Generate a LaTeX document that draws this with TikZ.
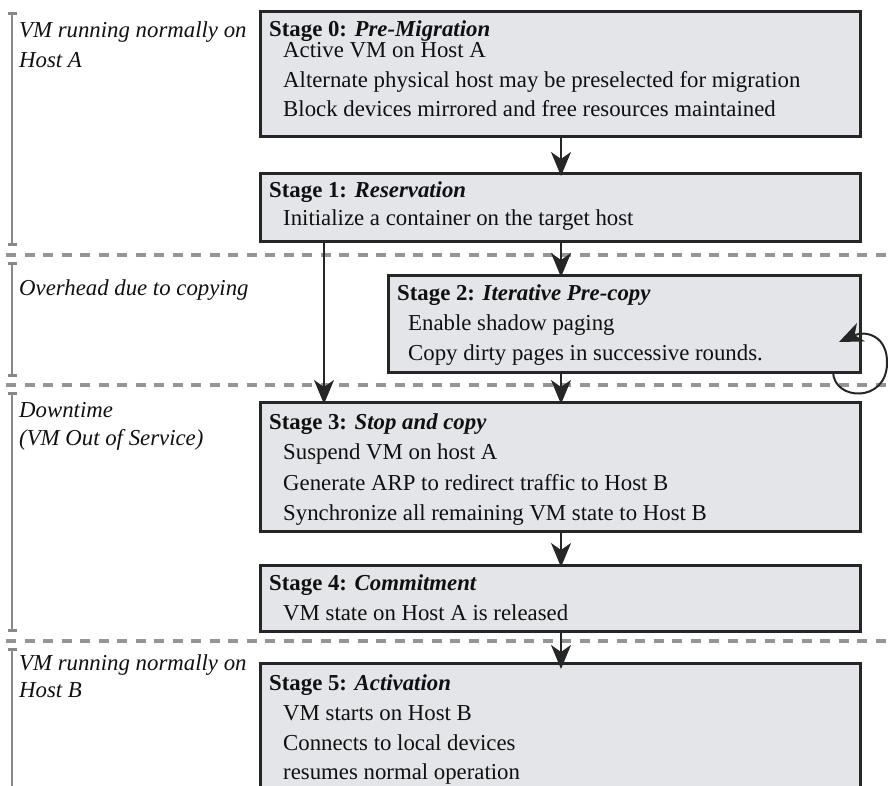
\documentclass[tikz,border=0pt]{standalone}
\usepackage{fontspec}
\setmainfont{Liberation Serif}
\usetikzlibrary{arrows.meta}
\definecolor{boxfill}{HTML}{E3E5E9}
\definecolor{boxline}{HTML}{262626}
\definecolor{sepgray}{HTML}{959595}
\definecolor{bargray}{HTML}{888888}
\definecolor{inkc}{HTML}{101010}
\begin{document}
\begin{tikzpicture}[x=1pt,y=-1pt,
  stagebox/.style={draw=boxline, line width=3pt, fill=boxfill, rectangle,
    inner sep=0pt, outer sep=0pt, anchor=north west},
  txt/.style={anchor=base west, inner sep=0pt, text=inkc,
    font=\fontsize{22.8}{27}\selectfont},
  sidelabel/.style={anchor=base west, inner sep=0pt, text=inkc,
    font=\fontsize{22.8}{27}\selectfont\itshape},
  headtip/.tip={Stealth[length=24pt 0,width=20pt 0,inset=7pt 0]},
  arr/.style={draw=boxline, line width=2pt, -headtip},
  sepline/.style={draw=sepgray, line width=3.2pt, dash pattern=on 10pt off 8.5pt},
  brk/.style={draw=bargray, line width=2.8pt},
]
\useasboundingbox (0,0) rectangle (888,786);

% ---------- side brackets ----------
\draw[brk, {Bar[width=9pt]}-{Bar[width=9pt]}] (12,12) -- (12,246);
\draw[brk, {Bar[width=9pt]}-{Bar[width=9pt]}] (12,262) -- (12,377);
\draw[brk, {Bar[width=9pt]}-{Bar[width=9pt]}] (12,392) -- (12,632);
\draw[brk, {Bar[width=9pt]}-] (12,648) -- (12,800);

% ---------- separators ----------
\draw[sepline] (6,255) -- (888,255);
\draw[sepline] (6,385) -- (888,385);
\draw[sepline] (6,641) -- (888,641);

% ---------- side labels ----------
\node[sidelabel] (lA1) at (19,38) {VM running normally on};
\node[sidelabel] (lA2) at (19,68) {Host A};
\node[sidelabel] (lO)  at (19,295) {Overhead due to copying};
\node[sidelabel] (lD1) at (19,417) {Downtime};
\node[sidelabel] (lD2) at (19,445) {(VM Out of Service)};
\node[sidelabel] (lB1) at (19,670) {VM running normally on};
\node[sidelabel] (lB2) at (19,697) {Host B};

% ---------- boxes ----------
\node[stagebox, minimum width=600pt, minimum height=125pt] (S0) at (260,12) {};
\node[stagebox, minimum width=600pt, minimum height=68pt]  (S1) at (260,174) {};
\node[stagebox, minimum width=472pt, minimum height=97pt]  (S2) at (388,275) {};
\node[stagebox, minimum width=600pt, minimum height=129pt] (S3) at (260,402) {};
\node[stagebox, minimum width=600pt, minimum height=66pt]  (S4) at (260,565) {};
\node[stagebox, minimum width=600pt, minimum height=140pt] (S5) at (260,663) {};

% ---------- box texts ----------
\node[txt] (t0)  at (269,37)  {\textbf{Stage 0: \textit{Pre-Migration}}};
\node[txt] (t0a) at (283,58)  {Active VM on Host A};
\node[txt] (t0b) at (283,88)  {Alternate physical host may be preselected for migration};
\node[txt] (t0c) at (283,117) {Block devices mirrored and free resources maintained};

\node[txt] (t1)  at (269,198) {\textbf{Stage 1: \textit{Reservation}}};
\node[txt] (t1a) at (283,226) {Initialize a container on the target host};

\node[txt] (t2)  at (397,300) {\textbf{Stage 2: \textit{Iterative Pre-copy}}};
\node[txt] (t2a) at (408,330) {Enable shadow paging};
\node[txt] (t2b) at (408,360) {Copy dirty pages in successive rounds.};

\node[txt] (t3)  at (269,429) {\textbf{Stage 3: \textit{Stop and copy}}};
\node[txt] (t3a) at (283,459) {Suspend VM on host A};
\node[txt] (t3b) at (283,490) {Generate ARP to redirect traffic to Host B};
\node[txt] (t3c) at (283,520) {Synchronize all remaining VM state to Host B};

\node[txt] (t4)  at (269,590) {\textbf{Stage 4: \textit{Commitment}}};
\node[txt] (t4a) at (283,620) {VM state on Host A is released};

\node[txt] (t5)  at (269,690) {\textbf{Stage 5: \textit{Activation}}};
\node[txt] (t5a) at (283,720) {VM starts on Host B};
\node[txt] (t5b) at (283,750) {Connects to local devices};
\node[txt] (t5c) at (283,779) {resumes normal operation};

% ---------- connectors ----------
\coordinate (mid) at (561,0);
\coordinate (skip) at (324,0);
\draw[arr] (S0.south -| mid) -- ([yshift=-2pt]S1.north -| mid);
\draw[arr] (S1.south -| mid) -- ([yshift=-2pt]S2.north -| mid);
\draw[arr] (S1.south -| skip) -- ([yshift=-2pt]S3.north -| skip);
\draw[arr] (S2.south -| mid) -- ([yshift=-2pt]S3.north -| mid);
\draw[arr] (S3.south -| mid) -- ([yshift=-2pt]S4.north -| mid);
\draw[arr] (S4.south -| mid) -- ([yshift=-6pt]S5.north -| mid);

% loop on Stage 2
\coordinate (loopS) at (833,0);
\coordinate (loopR) at (887,364);
\coordinate (loopE) at (839,342);
\draw[arr] (S2.south -| loopS) .. controls (834,401) and (886,403) .. (loopR)
  .. controls (888,336) and (866,330) .. (loopE);
\end{tikzpicture}
\end{document}
